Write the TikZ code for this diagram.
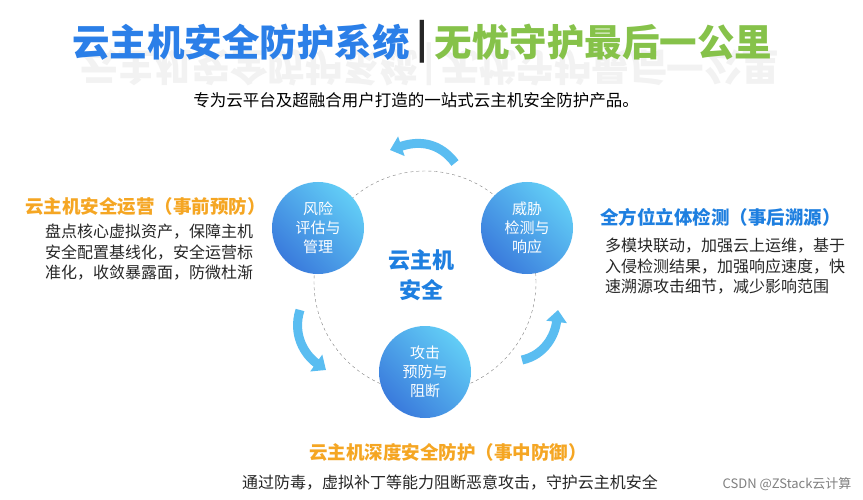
\documentclass[tikz,border=0pt]{standalone}
\usepackage{fontspec}
\newfontfamily\cjk{Noto Sans CJK SC}
\usetikzlibrary{arrows.meta}
\definecolor{tblue}{HTML}{2B7FE8}
\definecolor{tgreen}{HTML}{86C24A}
\definecolor{orng}{HTML}{F5A623}
\definecolor{cblue}{HTML}{3A7BDC}
\definecolor{ccyan}{HTML}{62CDF6}
\definecolor{hblue}{HTML}{1E7FE0}
\tikzset{
 ball/.style={circle,minimum size=92pt,inner sep=0pt,left color=cblue,right color=ccyan,shading angle=135,text=white,font=\cjk\fontsize{15}{19}\selectfont,align=center},
 head/.style={font=\cjk\bfseries\fontsize{18.5}{21}\selectfont,anchor=west,inner sep=0pt},
 body/.style={font=\cjk\fontsize{16}{20.5}\selectfont,anchor=north west,align=left,inner sep=0pt,text=black!85},
 ttl/.style={font=\cjk\bfseries\fontsize{37.5}{40}\selectfont,inner sep=0pt},
 carrow/.style={line width=9pt,-{Triangle[width=20pt,length=12pt]},ccyan!80!cblue},
}
\begin{document}
\begin{tikzpicture}[x=1pt,y=-1pt]
\useasboundingbox (0,0) rectangle (863,500);
\fill[white] (0,0) rectangle (863,500);
% title reflection
\node[ttl,text=black!5,yscale=-1,anchor=west] (refl) at (80,64) {云主机安全防护系统\,|\,无忧守护最后一公里};
\node[ttl,text=tblue,anchor=west] (t1) at (72,42) {云主机安全防护系统};
\node[ttl,anchor=west,text=black!85] (bar) at (t1.east) {\,|\,};
\node[ttl,text=tgreen,anchor=west] (t2) at (bar.east) {无忧守护最后一公里};
\node[font=\cjk\fontsize{16.5}{18}\selectfont] (sub) at (416,100) {专为云平台及超融合用户打造的一站式云主机安全防护产品。};
% ring
\node[circle,draw=gray,dashed,minimum size=222pt,inner sep=0pt] (ring) at (425,282) {};
\node[ball] (b1) at (318,228) {风险\\评估与\\管理};
\node[ball] (b2) at (527,228) {威胁\\检测与\\响应};
\node[ball] (b3) at (425,372) {攻击\\预防与\\阻断};
\node[font=\cjk\bfseries\fontsize{22}{30}\selectfont,text=hblue,align=center] (ctr) at (421,275) {云主机\\安全};
% curved arrows
\coordinate (a1s) at (455,163); \coordinate (a1e) at (390,150);
\draw[carrow] (a1s) .. controls (440,143) and (420,140) .. (a1e);
\coordinate (a2s) at (300,310); \coordinate (a2e) at (326,370);
\draw[carrow] (a2s) .. controls (292,335) and (305,355) .. (a2e);
\coordinate (a3s) at (522,360); \coordinate (a3e) at (558,310);
\draw[carrow] (a3s) .. controls (545,355) and (555,335) .. (a3e);
% left text
\node[head,text=orng] (h1) at (25,207) {云主机安全运营（事前预防）};
\node[body] (p1) at (45,224) {盘点核心虚拟资产，保障主机\\安全配置基线化，安全运营标\\准化，收敛暴露面，防微杜渐};
% right text
\node[head,text=hblue] (h2) at (600,217) {全方位立体检测（事后溯源）};
\node[body] (p2) at (605,238) {多模块联动，加强云上运维，基于\\入侵检测结果，加强响应速度，快\\速溯源攻击细节，减少影响范围};
% bottom text
\node[head,text=orng,anchor=center] (h3) at (448,452) {云主机深度安全防护（事中防御）};
\node[body,anchor=center] (p3) at (450,483) {通过防毒，虚拟补丁等能力阻断恶意攻击，守护云主机安全};
\node[font=\cjk\fontsize{13}{15}\selectfont,text=gray,anchor=east] (wm) at (855,484) {CSDN @ZStack云计算};
\end{tikzpicture}
\end{document}
